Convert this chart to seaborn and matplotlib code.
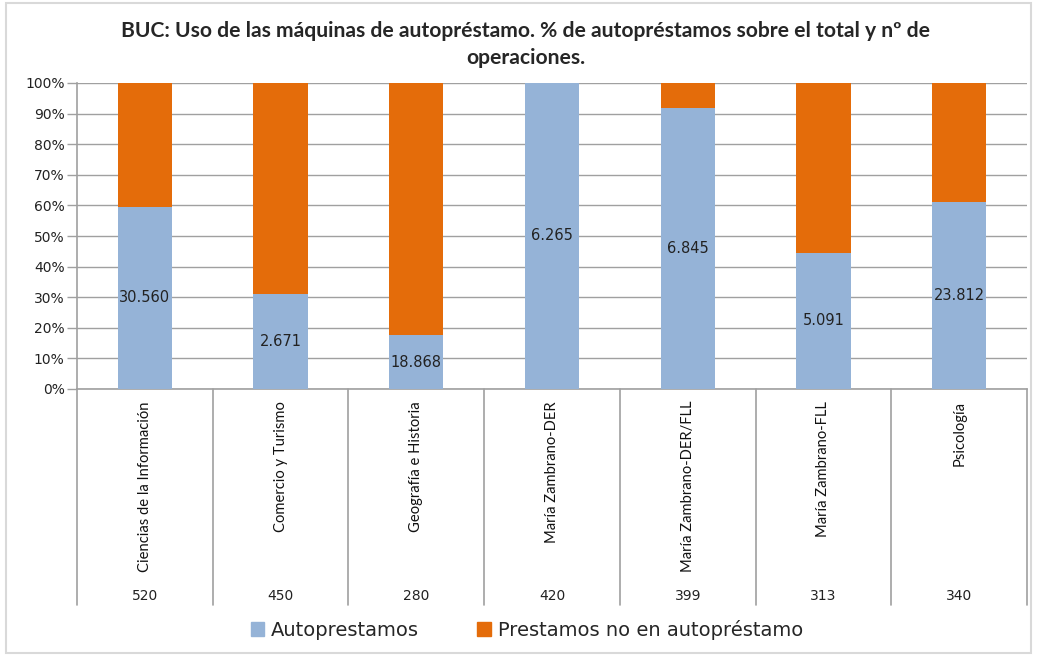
import matplotlib
matplotlib.use("Agg")
import matplotlib.pyplot as plt
import seaborn as sns
import pandas as pd
from matplotlib.patches import Rectangle
from matplotlib.lines import Line2D
import matplotlib.transforms as mtransforms

categories = ["Ciencias de la Información", "Comercio y Turismo", "Geografía e Historia",
              "María Zambrano-DER", "María Zambrano-DER/FLL", "María Zambrano-FLL", "Psicología"]
auto_pct = [59.6, 31.0, 17.6, 100.0, 91.9, 44.5, 61.1]
auto_labels = ["30.560", "2.671", "18.868", "6.265", "6.845", "5.091", "23.812"]
operaciones = [520, 450, 280, 420, 399, 313, 340]
total_pct = [100, 100, 100, 100, 100, 100, 100]
series_names = ["Autoprestamos", "Prestamos no en autopréstamo"]
yticks = [0, 10, 20, 30, 40, 50, 60, 70, 80, 90, 100]

BLUE = "#95B3D7"
ORANGE = "#E46C0A"
GRID = "#a0a0a0"

sns.set_theme(style="white")
plt.rcParams['font.family'] = ['DejaVu Sans']

df = pd.DataFrame({"cat": categories, "auto": auto_pct, "total": total_pct})

fig = plt.figure(figsize=(10.37, 6.55), dpi=100)
ax = fig.add_axes([77/1037, 1-389/655, (1027-77)/1037, (389-83)/655])

sns.barplot(data=df, x="cat", y="total", color=ORANGE, saturation=1, width=0.4, ax=ax,
            zorder=3, linewidth=0)
sns.barplot(data=df, x="cat", y="auto", color=BLUE, saturation=1, width=0.4, ax=ax,
            zorder=4, linewidth=0)

ax.set_ylim(0, 100)
ax.set_xlim(-0.5, len(categories)-0.5)
ax.set_yticks(yticks)
ax.set_yticklabels([f"{v}%" for v in yticks], fontsize=10, color="#222222")
ax.yaxis.grid(True, color=GRID, linewidth=1, zorder=0)
ax.set_axisbelow(True)
ax.tick_params(axis='y', length=7, color=GRID, width=1, pad=2, left=True)
ax.set_xticks([])
ax.set_xlabel("")
ax.set_ylabel("")
for s in ["top", "right"]:
    ax.spines[s].set_visible(False)
ax.spines["left"].set_color(GRID)
ax.spines["bottom"].set_color(GRID)
ax.spines["left"].set_linewidth(1.2)
ax.spines["bottom"].set_linewidth(1.2)

# data labels
for i, (v, lab) in enumerate(zip(auto_pct, auto_labels)):
    ax.text(i, v/2, lab, ha="center", va="center", fontsize=10.5, color="#222222", zorder=6)

# table area below axis
trans = mtransforms.blended_transform_factory(ax.transData, ax.transAxes)
bottom_y = -(605-389)/(389-83)
for k in range(len(categories)+1):
    ax.add_line(Line2D([k-0.5, k-0.5], [0, bottom_y], transform=trans, color=GRID,
                       linewidth=1.2, clip_on=False))
for i, (c, n) in enumerate(zip(categories, operaciones)):
    ax.text(i, -(401-389)/(389-83), c, transform=trans, rotation=90, ha="center", va="top",
            fontsize=10.6, family="Lato", color="#111111")
    ax.text(i, -(596-389)/(389-83), str(n), transform=trans, ha="center", va="center",
            fontsize=10, color="#222222")

# title
fig.text(0.507, 1-31/655, "BUC: Uso de las máquinas de autopréstamo. % de autopréstamos sobre el total y nº de",
         ha="center", va="center", fontsize=15.2, fontweight="bold", family="Lato")
fig.text(0.507, 1-58/655, "operaciones.", ha="center", va="center", fontsize=15.2,
         fontweight="bold", family="Lato")

# legend
handles = [Rectangle((0, 0), 1, 1, color=BLUE), Rectangle((0, 0), 1, 1, color=ORANGE)]
fig.legend(handles, series_names, loc="center", bbox_to_anchor=(0.508, 1-630/655), ncol=2,
           frameon=False, fontsize=14, handlelength=0.7, handleheight=0.7,
           handletextpad=0.35, columnspacing=3.0)

# outer border
fig.add_artist(Rectangle((6/1037, 2/655), 1-12/1037, 1-5/655, transform=fig.transFigure,
                         fill=False, edgecolor="#d9d9d9", linewidth=1.5))

fig.savefig("out.png", dpi=100)
